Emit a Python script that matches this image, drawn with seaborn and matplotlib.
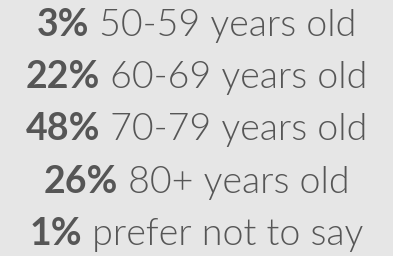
import matplotlib
matplotlib.use("Agg")
import matplotlib.pyplot as plt
import seaborn as sns

# values
percents = ["3%", "22%", "48%", "26%", "1%"]
labels = ["50-59 years old", "60-69 years old", "70-79 years old",
          "80+ years old", "prefer not to say"]

BG = "#e6e6e6"
INK = "#565656"
W, H, DPI = 393, 256, 100

sns.set_theme(style="white")
plt.rcParams["font.family"] = ["Lato", "DejaVu Sans"]

fig = plt.figure(figsize=(W / DPI, H / DPI), dpi=DPI, facecolor=BG)
renderer = fig.canvas.get_renderer()

baselines = [36, 88, 140, 193, 245]  # pixel rows from the top
size = 27

for pct, lab, base in zip(percents, labels, baselines):
    y = 1 - base / H
    t1 = fig.text(0, y, pct, fontsize=size, fontweight=700, color=INK,
                  va="baseline", ha="left")
    t2 = fig.text(0, y, " " + lab, fontsize=size, fontweight=300, color=INK,
                  va="baseline", ha="left")
    w1 = t1.get_window_extent(renderer).width
    w2 = t2.get_window_extent(renderer).width
    x0 = (W - (w1 + w2)) / 2
    t1.set_x(x0 / W)
    t2.set_x((x0 + w1) / W)

fig.savefig("out.png", dpi=DPI, facecolor=BG)
